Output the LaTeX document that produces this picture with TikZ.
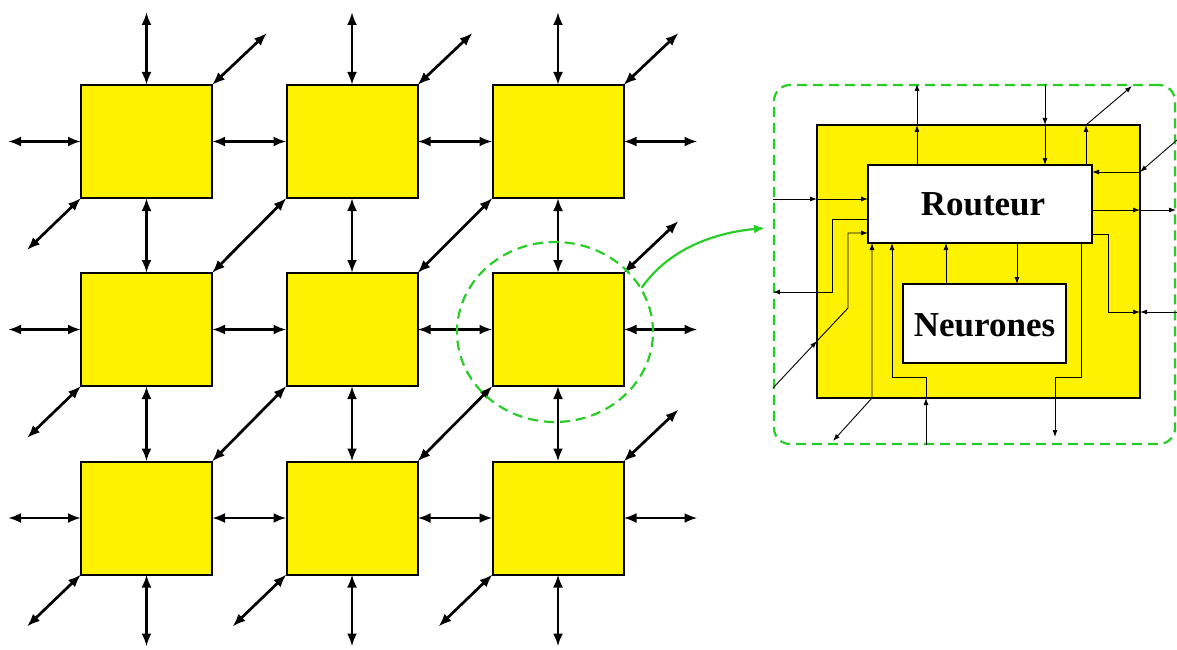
\documentclass[tikz,border=0pt]{standalone}
\usepackage{fontspec}
\setmainfont{Liberation Serif}
\usetikzlibrary{arrows.meta,shapes.geometric,calc}
\definecolor{ngreen}{RGB}{40,205,40}
\begin{document}
\begin{tikzpicture}[x=1pt,y=-1pt,
  cell/.style={draw=black,line width=2pt,fill=yellow,minimum width=131pt,minimum height=113pt,inner sep=0pt,outer sep=0pt},
  link/.style={line width=2.7pt,{Latex[length=13pt,width=10pt]}-{Latex[length=13pt,width=10pt]}},
  wire/.style={line width=0.9pt},
  wa/.style={wire,-{Latex[length=7pt,width=5pt]}},
  wb/.style={wire,{Latex[length=7pt,width=5pt]}-{Latex[length=7pt,width=5pt]}},
  gdash/.style={draw=ngreen,line width=2.2pt,dash pattern=on 10pt off 6pt},
  whitebox/.style={draw=black,line width=2.4pt,fill=white,inner sep=0pt,outer sep=0pt},
  lbl/.style={font=\bfseries\fontsize{35}{40}\selectfont}
]
\useasboundingbox (0,0) rectangle (1177,650);

% grid of cells
\foreach \r/\y in {1/141.5,2/329.5,3/518}
  \foreach \c/\x in {1/146.5,2/352,3/558}
    \node[cell] (s\r\c) at (\x,\y) {};

% outer links
\foreach \c in {1,2,3} {
  \draw[link] (s1\c.north) -- ++(0,-73);
  \draw[link] (s3\c.south) -- ++(0,72);
  \draw[link] (s1\c.north east) -- ++(55,-52);
}
\foreach \r in {1,2,3} {
  \draw[link] (s\r1.west) -- ++(-73,0);
  \draw[link] (s\r3.east) -- ++(74,0);
  \draw[link] (s\r1.south west) -- ++(-54,52);
}
\foreach \r in {2,3} \draw[link] (s\r3.north east) -- ++(55,-52);
\foreach \c in {2,3} \draw[link] (s3\c.south west) -- ++(-54,52);

% inner links
\foreach \c in {1,2,3} {
  \draw[link] (s1\c.south) -- (s2\c.north);
  \draw[link] (s2\c.south) -- (s3\c.north);
}
\foreach \r in {1,2,3} {
  \draw[link] (s\r1.east) -- (s\r2.west);
  \draw[link] (s\r2.east) -- (s\r3.west);
}
\foreach \c/\d in {1/2,2/3} {
  \draw[link] (s2\c.north east) -- (s1\d.south west);
  \draw[link] (s3\c.north east) -- (s2\d.south west);
}

% zoom circle
\node[gdash,ellipse,minimum width=196pt,minimum height=180pt,inner sep=0pt] (zoom) at (555,332) {};

% inset
\node[gdash,rounded corners=16pt,minimum width=401pt,minimum height=359pt,inner sep=0pt] (frame) at (974.5,264.5) {};
\coordinate (gend) at (765,228);
\draw[draw=ngreen,line width=2.2pt,-{Latex[length=11pt,width=9pt]}] (zoom.27) .. controls (668,250) and (712,233) .. (gend);

\node[draw=black,line width=2pt,fill=yellow,minimum width=323pt,minimum height=273pt,inner sep=0pt,outer sep=0pt] (Y) at (978.5,261.5) {};
\node[whitebox,minimum width=224pt,minimum height=78pt] (R) at (980,204) {};
\node[lbl] (Rl) at (983,204) {Routeur};
\node[whitebox,minimum width=163pt,minimum height=79pt] (N) at (984.5,323.5) {};
\node[lbl] (Nl) at (984.5,325) {Neurones};

% free ends
\coordinate (o3) at (1132,86);
\coordinate (i4) at (1177,140);
\coordinate (o5) at (1176,210);
\coordinate (i6) at (1177,312);
\coordinate (o7) at (1055,437);
\coordinate (b9) at (833,441);
\coordinate (i14) at (773,388);
\coordinate (k14) at (817,341);

% wires
\draw[wa] (R.north -| 917,0) -- (Y.north -| 917,0);
\draw[wa] (Y.north -| 917,0) -- (frame.north -| 917,0);
\draw[wa] (frame.north -| 1045,0) -- (Y.north -| 1045,0);
\draw[wa] (Y.north -| 1045,0) -- (R.north -| 1045,0);
\draw[wa] (R.north -| 1086,0) -- (Y.north -| 1086,0);
\draw[wa] (Y.north -| 1086,0) -- (o3);
\draw[wa] (i4) -- (Y.east |- 0,172);
\draw[wa] (Y.east |- 0,172) -- (R.east |- 0,172);
\draw[wa] (R.east |- 0,210) -- (Y.east |- 0,210);
\draw[wa] (Y.east |- 0,210) -- (o5);
\draw[wa] (R.east |- 0,234) -- (1108,234) -- (1108,312) -- (Y.east |- 0,312);
\draw[wa] (i6) -- (Y.east |- 0,312);
\draw[wa] (R.south -| 1081,0) -- (1081,377) -- (1055,377) -- (o7);
\draw[wa] (frame.south -| 926,0) -- (Y.south -| 926,0);
\draw[wa] (Y.south -| 926,0) -- (926,377) -- (892,377) -- (R.south -| 892,0);
\draw[wb] (b9) -- (872,398) -- (R.south -| 872,0);
\draw[wa] (N.north -| 946,0) -- (R.south -| 946,0);
\draw[wa] (R.south -| 1017,0) -- (N.north -| 1017,0);
\draw[wa] (frame.west |- 0,199) -- (Y.west |- 0,199);
\draw[wa] (Y.west |- 0,199) -- (R.west |- 0,199);
\draw[wa] (R.west |- 0,219) -- (832,219) -- (832,292) -- (frame.west |- 0,292);
\draw[wa] (i14) -- (k14);
\draw[wa] (k14) -- (848,308) -- (848,233) -- (R.west |- 0,233);
\end{tikzpicture}
\end{document}
